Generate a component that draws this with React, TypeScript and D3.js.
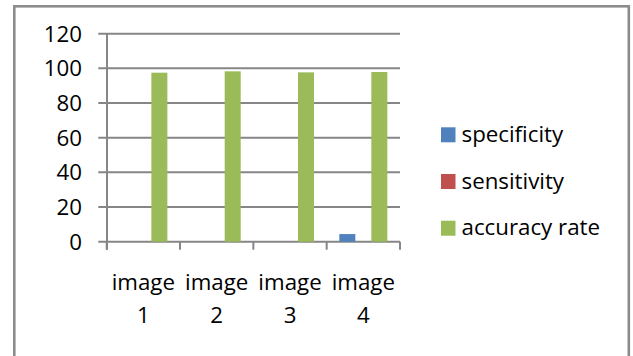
import React from 'react';
import * as d3 from 'd3';

// données
const categories = ['image 1', 'image 2', 'image 3', 'image 4'];
const seriesNames = ['specificity', 'sensitivity', 'accuracy rate'];
const specificity = [0, 0, 0, 4.4];
const sensitivity = [0, 0, 0, 0];
const accuracyRate = [97.5, 98.3, 97.7, 97.9];
const yTicks = [0, 20, 40, 60, 80, 100, 120];

const colors = ['#4F81BD', '#C0504D', '#9BBB59'];
const values = [specificity, sensitivity, accuracyRate];

const W = 633;
const H = 356;
const font = '"Open Sans", "Noto Sans", sans-serif';
const fs = 22.3;

export default function App() {
  const x = d3.scaleBand().domain(categories).range([106.7, 400]);
  const bw = x.bandwidth();
  const pad = (bw - 48) / 2;
  const xs = d3.scaleBand().domain(seriesNames).range([pad, bw - pad]);
  const y = d3.scaleLinear().domain([0, 120]).range([241.7, 33.7]);

  return (
    <svg width={W} height={H} style={{ position: 'absolute', left: 0, top: 0 }} fontFamily={font}>
      <rect x={0} y={0} width={W} height={H} fill="#fff" />
      {/* cadre */}
      <rect x={14.3} y={6.3} width={614.5} height={H + 10} fill="none" stroke="#8c8c8c" strokeWidth={2.6} />

      {/* grille et graduations Y */}
      {yTicks.map(t => (
        <g key={t}>
          <line x1={98.3} x2={400} y1={y(t)} y2={y(t)} stroke="#868686" strokeWidth={2} />
          <text x={82} y={y(t)} dy="0.36em" textAnchor="end" fontSize={fs} fill="#000">{t}</text>
        </g>
      ))}
      <line x1={107} x2={107} y1={y(120)} y2={y(0) + 8} stroke="#868686" strokeWidth={2} />

      {/* graduations X */}
      {[...categories.map(c => x(c) as number), 400].map((v, i) => (
        <line key={i} x1={v} x2={v} y1={y(0)} y2={y(0) + 8} stroke="#868686" strokeWidth={2} />
      ))}

      {/* barres */}
      {categories.map((c, i) => (
        <g key={c} transform={`translate(${x(c)},0)`}>
          {seriesNames.map((s, j) => {
            const v = values[j][i];
            if (!v) return null;
            return (
              <rect key={s} x={xs(s)} y={y(v)} width={xs.bandwidth()} height={y(0) - y(v)}
                fill={colors[j]} />
            );
          })}
        </g>
      ))}

      {/* étiquettes X */}
      {categories.map(c => {
        const [a, b] = c.split(' ');
        const cx = (x(c) as number) + bw / 2;
        return (
          <text key={c} x={cx} textAnchor="middle" fontSize={fs} fill="#000">
            <tspan x={cx} y={290}>{a}</tspan>
            <tspan x={cx} y={322.5}>{b}</tspan>
          </text>
        );
      })}

      {/* légende */}
      {seriesNames.map((s, j) => (
        <g key={s} transform={`translate(441,${127.3 + j * 46.7})`}>
          <rect width={14.5} height={15} fill={colors[j]} />
          <text x={20.5} y={14.5} fontSize={fs} fill="#000">{s}</text>
        </g>
      ))}
    </svg>
  );
}
